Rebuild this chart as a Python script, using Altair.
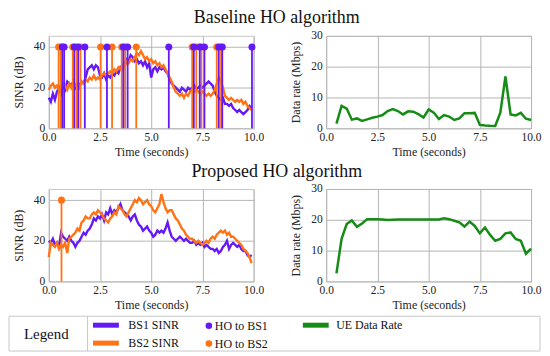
import altair as alt
import numpy as np
import pandas as pd

FONT = "Liberation Serif"
C_BS1 = "#6419f5"
C_BS2 = "#ff7316"
C_RATE = "#168c16"
C_FRAME = "#c8c8c8"

# time grids
TIME_SINR = np.round(np.arange(0, 100) * 0.1, 1)
TIME_RATE = np.round(0.5 + np.arange(0, 39) * 0.25, 2)

# ---- Baseline HO algorithm ----
base_bs1 = [15, 13, 17, 14, 18, 20, 17, 21, 19, 23,
            22, 21, 23, 20, 22, 21, 23, 22, 25, 29,
            30, 31, 29, 31, 30, 26, 25, 27, 24, 26,
            25, 27, 26, 28, 27, 30, 29, 32, 34, 33,
            36, 35, 33, 34, 32, 33, 31, 33, 30, 32,
            25, 29, 30, 28, 30, 29, 30, 28, 27, 24,
            22, 21, 20, 19, 18, 20, 19, 18, 20, 19,
            20, 21, 19, 20, 21, 20, 21, 22, 23, 22,
            21, 18, 16, 15, 14, 15, 12, 12, 11, 12,
            10, 9, 8, 9, 8, 7, 8, 9, 11, 10]
base_bs2 = [19, 21, 22, 20, 21, 19, 20, 22, 21, 19,
            22, 20, 23, 21, 22, 20, 23, 22, 24, 23,
            25, 24, 26, 24, 25, 24, 26, 27, 26, 27,
            28, 27, 29, 28, 30, 29, 31, 30, 33, 32,
            34, 33, 35, 37, 36, 38, 36, 34, 35, 33,
            34, 32, 33, 31, 32, 30, 31, 29, 27, 25,
            23, 20, 18, 17, 16, 17, 15, 17, 16, 18,
            19, 18, 19, 18, 17, 18, 17, 16, 17, 16,
            17, 19, 22, 25, 23, 20, 16, 15, 14, 15,
            14, 13, 14, 13, 14, 12, 13, 11, 10, 9]
base_ho_bs1 = [0.66, 0.75, 1.25, 1.44, 1.76, 2.84, 3.64, 3.85, 5.86,
               7.08, 7.37, 7.60, 8.30, 8.47, 9.92]
base_ho_bs2 = [0.48, 0.58, 1.17, 1.36, 1.55, 2.53, 3.09, 3.56, 3.73, 4.27,
               7.00, 7.20, 7.45, 8.20, 8.41]
base_rate = [1.5, 7.3, 6.4, 2.8, 3.2, 2.4, 2.9, 3.4, 3.8, 4.3,
             5.6, 6.2, 5.6, 4.5, 5.5, 5.4, 4.6, 3.5, 6.1, 5.1,
             3.0, 4.3, 3.8, 2.7, 3.2, 4.9, 4.9, 5.0, 1.1, 0.9,
             0.8, 0.75, 5.1, 16.8, 4.5, 4.2, 5.0, 3.1, 2.7]

# ---- Proposed HO algorithm ----
prop_bs1 = [20, 19, 21, 18, 19, 17, 24, 22, 21, 20,
            22, 20, 19, 17, 19, 20, 22, 24, 23, 25,
            26, 28, 31, 30, 32, 31, 33, 30, 34, 33,
            36, 33, 35, 34, 36, 38, 35, 34, 33, 32,
            30, 32, 33, 30, 28, 27, 25, 26, 27, 25,
            24, 22, 23, 25, 24, 25, 24, 26, 29, 25,
            22, 21, 20, 21, 22, 21, 20, 21, 20, 19,
            19, 20, 18, 19, 18, 19, 17, 18, 17, 16,
            16, 15, 16, 14, 15, 17, 18, 20, 16, 18,
            19, 18, 17, 18, 16, 15, 15, 13, 12, 13]
prop_bs2 = [12, 19, 18, 17, 19, 16, 18, 17, 19, 14,
            21, 22, 23, 24, 26, 25, 29, 30, 32, 31,
            31, 33, 34, 33, 35, 34, 33, 31, 30, 29,
            31, 32, 34, 33, 37, 36, 35, 33, 32, 34,
            36, 38, 40, 39, 41, 40, 38, 39, 40, 38,
            37, 35, 34, 36, 38, 43, 39, 36, 34, 35,
            35, 33, 31, 30, 28, 26, 25, 23, 22, 21,
            21, 20, 19, 20, 19, 18, 19, 20, 19, 21,
            22, 21, 23, 24, 25, 24, 25, 23, 24, 22,
            22, 21, 20, 19, 18, 16, 15, 14, 12, 9]
prop_ho_bs1 = []
prop_ho_bs2 = [0.62]
prop_rate = [2.6, 13.8, 18.6, 19.8, 17.7, 18.8, 20.2, 20.2, 20.2, 20.1,
             19.9, 20.0, 20.1, 20.1, 20.1, 20.1, 20.1, 20.1, 20.1, 20.1,
             20.1, 20.5, 20.2, 19.7, 19.2, 17.8, 19.4, 18.0, 15.6, 17.5,
             15.1, 13.2, 13.8, 15.6, 15.9, 13.8, 13.2, 9.0, 10.6]

X_TICKS = [0, 2.5, 5, 7.5, 10]
SINR_TICKS = [0, 20, 40]
RATE_TICKS = [0, 10, 20, 30]
HO_LEVEL = 40

LEGEND_TITLE = ["Legend"]
LEGEND_LINES = ["BS1 SINR", "BS2 SINR"]
LEGEND_HO = ["HO to BS1", "HO to BS2"]
LEGEND_RATE = ["UE Data Rate"]

PW, PH = 206, 93


def x_enc():
    return alt.X("t:Q", scale=alt.Scale(domain=[0, 10], nice=False, zero=False),
                 axis=alt.Axis(values=X_TICKS, format=".1f", title="Time (seconds)"))


def y_sinr(field):
    return alt.Y(field, scale=alt.Scale(domain=[0, 45.5], nice=False),
                 axis=alt.Axis(values=SINR_TICKS, title="SINR (dB)"))


def sinr_panel(bs1, bs2, ho1, ho2):
    df = pd.DataFrame({"t": TIME_SINR, "bs1": bs1, "bs2": bs2})
    layers = [
        alt.Chart(df).mark_line(color=C_BS1, strokeWidth=2.4).encode(x=x_enc(), y=y_sinr("bs1:Q")),
        alt.Chart(df).mark_line(color=C_BS2, strokeWidth=2.4).encode(x=x_enc(), y=y_sinr("bs2:Q")),
    ]
    for ho, col in ((ho2, C_BS2), (ho1, C_BS1)):
        if len(ho) == 0:
            continue
        hdf = pd.DataFrame({"t": ho, "lo": [0] * len(ho), "hi": [HO_LEVEL] * len(ho)})
        layers.append(alt.Chart(hdf).mark_rule(color=col, strokeWidth=1.8).encode(
            x=x_enc(), y=y_sinr("lo:Q"), y2="hi:Q"))
        layers.append(alt.Chart(hdf).mark_circle(color=col, size=50, opacity=1).encode(
            x=x_enc(), y=y_sinr("hi:Q")))
    return alt.layer(*layers).properties(width=PW, height=PH)


def rate_panel(rate):
    df = pd.DataFrame({"t": TIME_RATE, "r": rate})
    return alt.Chart(df).mark_line(color=C_RATE, strokeWidth=2.5).encode(
        x=x_enc(),
        y=alt.Y("r:Q", scale=alt.Scale(domain=[0, 30], nice=False),
                axis=alt.Axis(values=RATE_TICKS, title="Data rate (Mbps)")),
    ).properties(width=PW, height=PH)


def row(title, left, right):
    return alt.hconcat(left, right, spacing=25,
                       title=alt.TitleParams(title, anchor="middle", fontSize=18, font=FONT,
                                             fontWeight="normal", offset=2, color="#111"))


row1 = row("Baseline HO algorithm", sinr_panel(base_bs1, base_bs2, base_ho_bs1, base_ho_bs2),
           rate_panel(base_rate))
row2 = row("Proposed HO algorithm", sinr_panel(prop_bs1, prop_bs2, prop_ho_bs1, prop_ho_bs2),
           rate_panel(prop_rate))

# ---- legend box (one view; its origin lines up with the plots' origin) ----
BOX_L, BOX_DIV, BOX_R, LH = -40, 39, 494, 35
title_df = pd.DataFrame({"txt": LEGEND_TITLE})
frame = alt.Chart(title_df).mark_rect(fill="white", stroke=C_FRAME, strokeWidth=1).encode(
    x=alt.value(BOX_L), x2=alt.value(BOX_R), y=alt.value(0), y2=alt.value(LH))
divider = alt.Chart(title_df).mark_rule(color=C_FRAME, strokeWidth=1).encode(
    x=alt.value(BOX_DIV), y=alt.value(0), y2=alt.value(LH))
title_txt = alt.Chart(title_df).mark_text(
    font=FONT, fontSize=15, color="#111", baseline="middle", align="center"
).encode(text="txt:N", x=alt.value((BOX_L + BOX_DIV) / 2 - 2), y=alt.value(LH / 2))

common_leg = dict(title=None, orient="none", labelFont=FONT, labelFontSize=12, labelColor="#111",
                  padding=0, direction="vertical")
empty = pd.DataFrame({"s": pd.Series([], dtype=object)})
lay_lines = alt.Chart(empty).mark_line(strokeWidth=5).encode(
    x=alt.value(0), y=alt.value(0),
    color=alt.Color("s:N", scale=alt.Scale(domain=LEGEND_LINES, range=[C_BS1, C_BS2]),
                    legend=alt.Legend(legendX=BOX_DIV + 11, legendY=1.5, symbolType="M-2.6,0L2.6,0",
                                      symbolSize=100, symbolStrokeWidth=5, labelOffset=15,
                                      rowPadding=-6, **common_leg)))
lay_ho = alt.Chart(empty).mark_circle(opacity=1, size=44).encode(
    x=alt.value(0), y=alt.value(0),
    fill=alt.Fill("s:N", scale=alt.Scale(domain=LEGEND_HO, range=[C_BS1, C_BS2]),
                  legend=alt.Legend(legendX=BOX_DIV + 116, legendY=3.5, symbolType="circle",
                                    symbolSize=44, symbolStrokeWidth=0, symbolOpacity=1,
                                    labelOffset=0, rowPadding=6, **common_leg)))
lay_rate = alt.Chart(empty).mark_line(strokeWidth=5).encode(
    x=alt.value(0), y=alt.value(0),
    stroke=alt.Stroke("s:N", scale=alt.Scale(domain=LEGEND_RATE, range=[C_RATE]),
                      legend=alt.Legend(legendX=BOX_DIV + 222, legendY=1.5,
                                        symbolType="M-2.6,0L2.6,0", symbolSize=100,
                                        symbolStrokeWidth=5, labelOffset=13, rowPadding=-6,
                                        **common_leg)))
legend_row = alt.layer(frame, divider, title_txt, lay_lines, lay_ho, lay_rate).properties(
    width=BOX_R, height=LH, view=alt.ViewBackground(stroke="transparent"))

chart = alt.vconcat(row1, row2, legend_row, spacing=4).resolve_scale(
    color="independent", fill="independent", stroke="independent"
).properties(
    padding=0
).configure_view(
    stroke=C_FRAME, fill="white"
).configure_axis(
    labelFont=FONT, titleFont=FONT, labelFontSize=11.5, titleFontSize=12, titleFontWeight="normal",
    gridColor="#b4b4b4", gridWidth=1, domain=False, ticks=False, labelColor="#222",
    titleColor="#222", labelPadding=3, titlePadding=4
).configure_axisY(
    labelPadding=4, titlePadding=8
).configure_axisX(labelFlush=False)

chart.save("out.html", embed_options={"renderer": "svg", "actions": False})
